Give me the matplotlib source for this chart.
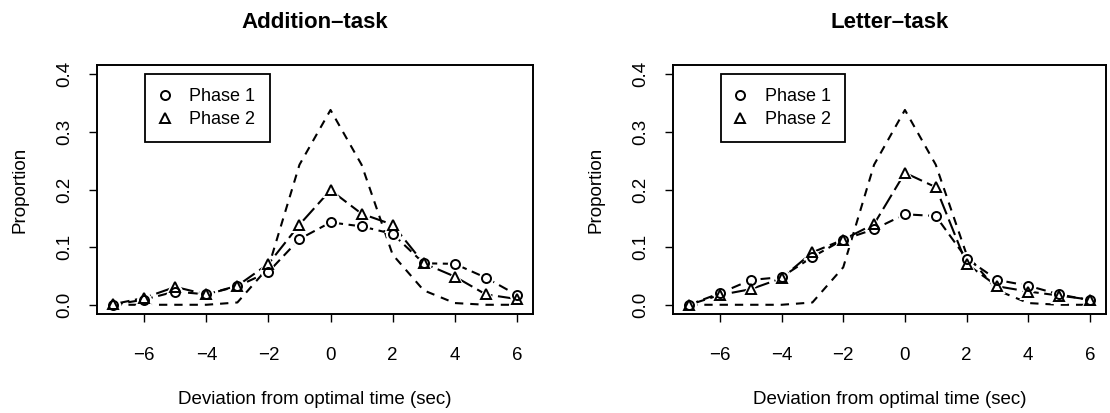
#!/usr/bin/env python

import numpy as np
import matplotlib
matplotlib.use('Agg')
from matplotlib import pyplot as plt
from matplotlib.lines import Line2D

plt.rcParams['font.family'] = ['Liberation Sans', 'DejaVu Sans']
plt.rcParams['lines.scale_dashes'] = False

# Deviation from optimal time (sec)
deviation = [-7, -6, -5, -4, -3, -2, -1, 0, 1, 2, 3, 4, 5, 6]

# Optimal (reference) distribution, drawn as plain dashed curve
optimal = [0.000, 0.000, 0.000, 0.000, 0.004, 0.065, 0.243, 0.338,
           0.243, 0.087, 0.025, 0.003, 0.000, 0.000]

addition_phase1 = [0.000, 0.009, 0.023, 0.018, 0.032, 0.057, 0.114, 0.143,
                   0.136, 0.123, 0.072, 0.071, 0.047, 0.017]
addition_phase2 = [0.001, 0.012, 0.031, 0.018, 0.033, 0.071, 0.139, 0.199,
                   0.158, 0.139, 0.072, 0.049, 0.018, 0.010]

letter_phase1 = [0.000, 0.020, 0.043, 0.048, 0.083, 0.113, 0.131, 0.157,
                 0.154, 0.080, 0.043, 0.033, 0.018, 0.008]
letter_phase2 = [0.000, 0.017, 0.027, 0.046, 0.091, 0.113, 0.140, 0.229,
                 0.204, 0.071, 0.032, 0.023, 0.016, 0.009]

titles = ['Addition\u2013task', 'Letter\u2013task']
legend_labels = ['Phase 1', 'Phase 2']
xticks = [-6, -4, -2, 0, 2, 4, 6]
yticks = [0.0, 0.1, 0.2, 0.3, 0.4]

FS = 13.5
LW = 1.5


def panel(ax, title, p1, p2):
    ax.plot(deviation, optimal, color='black', lw=LW, dashes=(6, 5))
    ax.plot(deviation, p1, color='black', lw=LW, dashes=(7, 4))
    ax.plot(deviation, p2, color='black', lw=LW, dashes=(12, 4))

    # white halo around points mimics R's type="b" gaps
    for ys, m, ms in [(p1, 'o', 6.5), (p2, '^', 7.5)]:
        ax.plot(deviation, ys, ls='none', marker=m, ms=ms + 3,
                mfc='white', mec='white', mew=1.5)
    for ys, m, ms in [(p1, 'o', 6.5), (p2, '^', 7.5)]:
        ax.plot(deviation, ys, ls='none', marker=m, ms=ms,
                mfc='none', mec='black', mew=1.4)

    ax.set_xlim(-7.52, 6.52)
    ax.set_ylim(-0.016, 0.416)
    ax.set_xticks(xticks)
    ax.set_xticklabels([str(t).replace('-', '\u2212') for t in xticks])
    ax.set_yticks(yticks)
    ax.set_yticklabels([f'{t:.1f}' for t in yticks], rotation=90, va='center')
    ax.tick_params(direction='out', length=6, width=1.0, labelsize=FS)
    ax.tick_params(axis='x', pad=18)
    ax.tick_params(axis='y', pad=11)
    for s in ax.spines.values():
        s.set_linewidth(1.4)

    ax.set_title(title, fontsize=16, fontweight='bold', pad=27)
    ax.set_xlabel('Deviation from optimal time (sec)', fontsize=FS, labelpad=19)
    ax.set_ylabel('Proportion', fontsize=FS, labelpad=20)

    handles = [Line2D([], [], ls='none', marker='o', ms=6.5, mfc='none',
                      mec='black', mew=1.4),
               Line2D([], [], ls='none', marker='^', ms=7.5, mfc='none',
                      mec='black', mew=1.4)]
    leg = ax.legend(handles, legend_labels, loc='upper left',
                    bbox_to_anchor=(0.110, 0.964), fontsize=13,
                    fancybox=False, framealpha=1, edgecolor='black',
                    borderpad=0.8, handlelength=0.6, handletextpad=1.05,
                    labelspacing=0.3, borderaxespad=0)
    leg.get_frame().set_linewidth(1.3)


def main():
    fig = plt.figure(figsize=(11.1, 4.13), dpi=100)
    ax1 = fig.add_axes([97 / 1110, 99 / 413, 436 / 1110, 249 / 413])
    ax2 = fig.add_axes([673 / 1110, 99 / 413, 433 / 1110, 249 / 413])

    panel(ax1, titles[0], addition_phase1, addition_phase2)
    panel(ax2, titles[1], letter_phase1, letter_phase2)

    fig.savefig('out.png', dpi=100)
    plt.close(fig)


if __name__ == '__main__':
    main()
